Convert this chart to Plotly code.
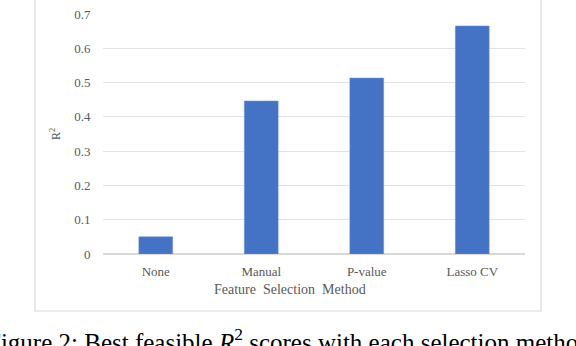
import plotly.graph_objects as go

methods = ["None", "Manual", "P-value", "Lasso CV"]
r2_scores = [0.05, 0.446, 0.513, 0.665]

W, H = 576, 346
L, R, T, B = 103, 51, 14, 92
pw, ph = W - L - R, H - T - B


def px_x(x):
    return (x - L) / pw


def px_y(y):
    return (H - B - y) / ph


fig = go.Figure()
fig.add_trace(go.Bar(
    x=methods,
    y=r2_scores,
    marker=dict(color="#4472C4", line=dict(color="#6d8fd0", width=0.6)),
    width=0.32,
    showlegend=False,
))

serif = "Liberation Serif, Times New Roman, serif"
grey = "#595959"

fig.update_layout(
    width=W, height=H,
    margin=dict(l=L, r=R, t=T, b=B, autoexpand=False),
    paper_bgcolor="white",
    plot_bgcolor="white",
    font=dict(family=serif, size=13, color=grey),
    bargap=0.68,
)
fig.update_xaxes(
    automargin=False,
    showgrid=False, showline=False, zeroline=False,
    ticks="outside", ticklen=5, tickcolor="rgba(0,0,0,0)",
    tickfont=dict(size=13, color=grey, family=serif),
)
fig.update_yaxes(
    automargin=False,
    range=[0, 0.7], dtick=0.1,
    showgrid=True, gridcolor="#e3e3e3", gridwidth=1,
    zeroline=True, zerolinecolor="#d9d9d9", zerolinewidth=1.5,
    showline=False,
    ticks="outside", ticklen=9, tickcolor="rgba(0,0,0,0)",
    tickfont=dict(size=13, color=grey, family=serif),
    title=dict(text="R<sup>2</sup>", font=dict(size=12, color=grey, family=serif), standoff=10),
)

# x axis title (offset from plot centre as in the original)
fig.add_annotation(
    text="Feature  Selection  Method", xref="paper", yref="paper",
    x=px_x(290), y=px_y(289), xanchor="center", yanchor="middle", showarrow=False,
    font=dict(size=14, color=grey, family=serif),
)

# chart frame
fig.add_shape(
    type="rect", xref="paper", yref="paper",
    x0=px_x(35), x1=px_x(541), y0=px_y(311), y1=px_y(-10),
    line=dict(color="#d9d9d9", width=1.2), layer="below",
)

# figure caption (cut off at the edges)
fig.add_annotation(
    text="Figure 2: Best feasible <i>R</i><sup>2</sup> scores with each selection method.",
    xref="paper", yref="paper",
    x=px_x(-15), y=px_y(322), xanchor="left", yanchor="top",
    showarrow=False,
    font=dict(size=25, color="black", family=serif),
)

fig.write_html("out.html", config={"displayModeBar": False},
               post_script="document.body.style.margin='0';")
